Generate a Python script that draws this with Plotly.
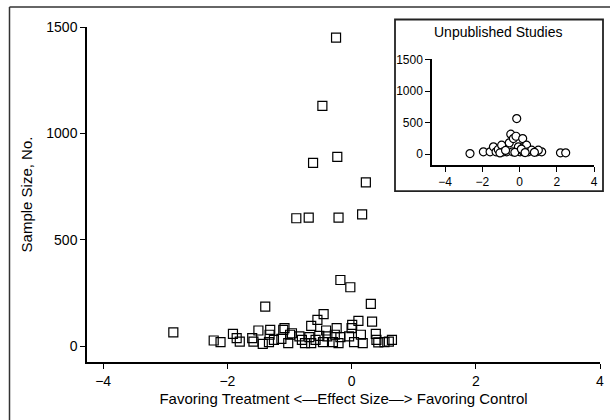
import plotly.graph_objects as go

# Published studies (main panel): effect size vs sample size
pub_effect = [-0.25, -0.47, -0.62, -0.23, 0.23, -0.89, -0.69, -0.21, 0.17, -0.18,
              -0.02, 0.31, -1.39, -2.87, -0.45, -0.55, 0.11, 0.33, -0.65, 0.01,
              -2.22, -2.11, -1.91, -1.85, -1.80, -1.60, -1.58, -1.50, -1.43, -1.33,
              -1.31, -1.32, -1.25, -1.13, -1.10, -1.08, -1.02, -0.99, -0.96, -0.84,
              -0.80, -0.75, -0.68, -0.65, -0.58, -0.52, -0.46, -0.41, -0.39, -0.30,
              -0.27, -0.24, -0.21, -0.18, -0.04, 0.00, 0.04, 0.15, 0.18, 0.39,
              0.40, 0.43, 0.53, 0.60, 0.65]
pub_n = [1450, 1130, 862, 890, 770, 602, 605, 605, 620, 312,
         278, 200, 187, 66, 152, 125, 120, 117, 97, 101,
         28, 20, 59, 39, 23, 39, 23, 75, 12, 20,
         78, 55, 31, 36, 78, 86, 16, 55, 62, 47,
         31, 16, 44, 16, 31, 50, 20, 75, 47, 20,
         55, 86, 16, 44, 47, 86, 20, 55, 16, 59,
         31, 19, 20, 23, 31]

# Unpublished studies (inset)
unpub_effect = [-2.66, -1.94, -1.58, -1.40, -1.26, -1.14, -0.96, -0.87, -0.69, -0.55,
                -0.47, -0.37, -0.33, -0.19, -0.15, -0.06, 0.03, 0.17, 0.21, 0.21,
                0.38, 0.47, 0.65, 0.92, 1.19, 2.20, 2.48, 1.01, -1.05, -0.75,
                -0.25, 0.10, 0.30, 0.80]
unpub_n = [10, 37, 37, 116, 37, 74, 142, 37, 37, 179,
           316, 37, 247, 284, 563, 116, 37, 247, 37, 105,
           142, 37, 63, 37, 37, 21, 21, 63, 20, 60,
           30, 80, 25, 30]

x_ticks = [-4, -2, 0, 2, 4]
x_labels = ["\u22124", "\u22122", "0", "2", "4"]
y_ticks = [0, 500, 1000, 1500]

FONT = "Liberation Sans, Arial, sans-serif"

fig = go.Figure()
fig.add_trace(go.Scatter(
    x=pub_effect, y=pub_n, mode="markers",
    marker=dict(symbol="square-open", size=9, color="black", line=dict(width=1.2)),
    showlegend=False, xaxis="x", yaxis="y"))
fig.add_trace(go.Scatter(
    x=unpub_effect, y=unpub_n, mode="markers",
    marker=dict(symbol="circle", size=8, color="white", line=dict(width=1.2, color="black")),
    showlegend=False, xaxis="x2", yaxis="y2"))

L, R, T, B = 87, 10, 26.5, 57.7
W, H = 610, 420
pw, ph = W - L - R, H - T - B
def px(x): return (x - L) / pw
def py(y): return (H - B - y) / ph

axis_common = dict(showgrid=False, zeroline=False, showline=True, linecolor="black",
                   linewidth=1.5, ticks="outside", ticklen=5, tickwidth=1.2,
                   tickcolor="black", mirror=False, automargin=False)

fig.update_layout(
    width=W, height=H, margin=dict(l=L, r=R, t=T, b=B),
    paper_bgcolor="white", plot_bgcolor="white",
    font=dict(family=FONT, size=14, color="black"),
    xaxis=dict(range=[-4.26, 4], tickvals=x_ticks, ticktext=x_labels,
               title=dict(text="Favoring Treatment <\u2014Effect Size\u2014> Favoring Control",
                          standoff=6, font=dict(size=15)),
               domain=[0, 1], **axis_common),
    yaxis=dict(range=[-73, 1500], tickvals=y_ticks,
               title=dict(text="Sample Size, No.", standoff=10, font=dict(size=15)),
               domain=[0, 1], **axis_common),
    xaxis2=dict(range=[-4.7, 4], tickvals=x_ticks, ticktext=x_labels,
                domain=[px(432), px(594)], anchor="y2", tickfont=dict(size=12), **axis_common),
    yaxis2=dict(range=[-174, 1500], tickvals=y_ticks,
                domain=[py(165), py(59)], anchor="x2", tickfont=dict(size=12), **axis_common),
    shapes=[
        dict(type="line", xref="paper", yref="paper",
             x0=px(9.5), x1=px(640), y0=py(6.5), y1=py(6.5),
             line=dict(color="#333", width=1.5)),
        dict(type="line", xref="paper", yref="paper",
             x0=px(9.5), x1=px(9.5), y0=py(6.5), y1=py(460),
             line=dict(color="#333", width=1.5)),
        dict(type="rect", xref="paper", yref="paper",
             x0=px(395), x1=px(603), y0=py(191), y1=py(19),
             line=dict(color="#222", width=1.8), fillcolor="white", layer="below"),
    ],
    annotations=[
        dict(text="Unpublished Studies", xref="paper", yref="paper",
             x=px(498), y=py(32), showarrow=False, xanchor="center", yanchor="middle",
             font=dict(size=14)),
    ],
)
fig.write_html("out.html", config={"displayModeBar": False},
               post_script="document.body.style.margin='0';")
